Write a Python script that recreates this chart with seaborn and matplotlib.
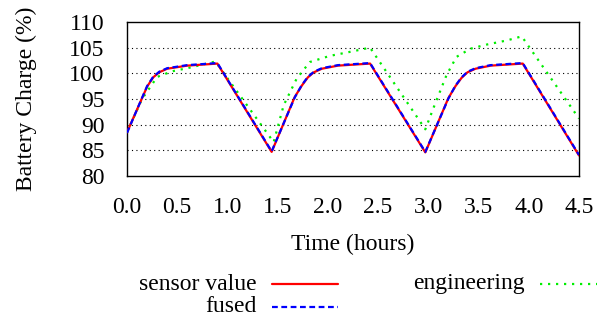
import matplotlib
matplotlib.use("Agg")
import matplotlib.pyplot as plt
import seaborn as sns
import pandas as pd
from matplotlib.lines import Line2D

# === Data ===
sensor_t = [0.0, 0.20, 0.26, 0.32, 0.40, 0.60, 0.90, 1.44, 1.67, 1.74, 1.80, 1.86, 1.94,
            2.10, 2.42, 2.97, 3.20, 3.27, 3.33, 3.39, 3.47, 3.62, 3.94, 4.50]
sensor_v = [88.5, 97.4, 99.2, 100.2, 100.9, 101.5, 101.9, 84.7, 95.4, 97.6, 99.2, 100.2,
            100.9, 101.5, 101.9, 84.6, 95.2, 97.5, 99.1, 100.2, 100.9, 101.5, 101.9, 84.0]

fused_t = [0.0, 0.20, 0.26, 0.32, 0.40, 0.60, 0.90, 1.44, 1.67, 1.74, 1.80, 1.86, 1.94,
           2.10, 2.42, 2.97, 3.20, 3.27, 3.33, 3.39, 3.47, 3.62, 3.94, 4.50]
fused_v = [88.4, 97.5, 99.3, 100.3, 101.0, 101.6, 102.0, 84.8, 95.3, 97.7, 99.3, 100.3,
           101.0, 101.6, 102.0, 84.7, 95.1, 97.6, 99.2, 100.3, 101.0, 101.6, 102.0, 84.1]

eng_t = [0.0, 0.15, 0.30, 0.45, 0.60, 0.88, 1.46, 1.56, 1.69, 1.82, 2.02, 2.25, 2.42,
         2.97, 3.05, 3.18, 3.28, 3.42, 3.58, 3.78, 3.93, 4.50]
eng_v = [88.5, 95.0, 99.3, 100.4, 101.0, 102.3, 86.6, 93.8, 99.0, 102.2, 103.4, 104.3, 105.0,
         89.1, 93.2, 99.6, 103.2, 104.8, 105.6, 106.4, 107.2, 91.2]

x_ticks = [0.0, 0.5, 1.0, 1.5, 2.0, 2.5, 3.0, 3.5, 4.0, 4.5]
y_ticks = [80, 85, 90, 95, 100, 105, 110]

sensor = pd.DataFrame({"t": sensor_t, "v": sensor_v})
fused = pd.DataFrame({"t": fused_t, "v": fused_v})
eng = pd.DataFrame({"t": eng_t, "v": eng_v})

sns.set_theme(style="white")
plt.rcParams["font.family"] = ["Liberation Serif", "DejaVu Serif"]
FS = 17

W, H = 597, 320
fig = plt.figure(figsize=(W / 100, H / 100), dpi=100)
ax = fig.add_axes([127 / W, 1 - 176 / H, 452 / W, 154 / H])

# grid first so the curves sit on top
for y in y_ticks[1:-1]:
    ax.axhline(y, color="black", lw=0.8, ls=(0, (1, 3)), zorder=0)

sns.lineplot(data=eng, x="t", y="v", ax=ax, color="#00ee00", lw=1.6,
             ls=(0, (1, 2.6)), sort=False, estimator=None, zorder=2)
sns.lineplot(data=sensor, x="t", y="v", ax=ax, color="#ff0000", lw=1.6,
             sort=False, estimator=None, zorder=3)
sns.lineplot(data=fused, x="t", y="v", ax=ax, color="#0000ff", lw=1.6,
             ls=(0, (2.6, 1.6)), sort=False, estimator=None, zorder=4)

ax.set_xlim(0, 4.5)
ax.set_ylim(80, 110)
ax.set_xticks(x_ticks)
ax.set_xticklabels([f"{t:.1f}" for t in x_ticks])
ax.set_yticks(y_ticks)
ax.tick_params(axis="both", direction="out", length=6, width=1, color="black",
               labelcolor="black", labelsize=FS)
ax.tick_params(axis="x", pad=9)
ax.tick_params(axis="y", pad=10)
for s in ax.spines.values():
    s.set_color("black")
    s.set_linewidth(1.0)

ax.set_xlabel("Time (hours)", fontsize=FS, color="black")
ax.set_ylabel("Battery Charge (%)", fontsize=FS, color="black")
ax.xaxis.set_label_coords(0.5, -0.375)
ax.yaxis.set_label_coords(-0.20, 0.5)

# gnuplot-style key below the plot: text right-aligned, sample to the right
def px(x, y):
    return x / W, 1 - y / H

key = [("sensor value", 257, 284, "#ff0000", "-"),
       ("fused", 257, 307, "#0000ff", (0, (2.6, 1.6))),
       ("engineering", 525, 284, "#00ee00", (0, (1, 2.6)))]
for label, xr, yc, col, style in key:
    fx, fy = px(xr, yc)
    fig.text(fx, fy, label, ha="right", va="center", fontsize=FS, color="black")
    x0, _ = px(xr + 15, yc)
    x1, _ = px(xr + 81, yc)
    fig.add_artist(Line2D([x0, x1], [fy, fy], color=col, lw=1.6, ls=style))

fig.savefig("out.png", dpi=100)
